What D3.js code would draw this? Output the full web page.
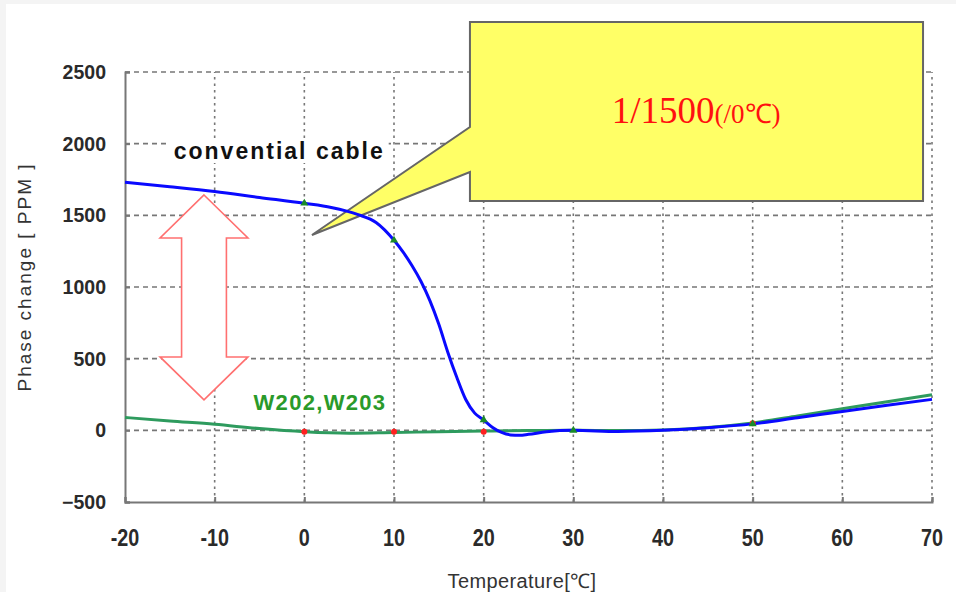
<!DOCTYPE html>
<html><head><meta charset="utf-8">
<script src="https://cdn.jsdelivr.net/npm/d3@7"></script>
<style>body{margin:0;background:#fff}svg{display:block}</style>
</head><body>
<svg id="c" width="956" height="592"></svg>
<script>
// ---- data ----
const xTicks = [-20,-10,0,10,20,30,40,50,60,70];
const yTicks = [-500,0,500,1000,1500,2000,2500];
const conventionalX = [-20,-15,-10,-5,0,3,6,8,10,11,12,13,14,15,16,17,18,19,20,21,22,23,24,25,27,30,35,40,45,50,55,60,65,70];
const conventionalY = [1730,1700,1667,1625,1584,1555,1505,1450,1326,1245,1150,1040,905,740,545,370,215,120,72,20,-15,-32,-35,-28,-10,0,-8,0,18,45,88,132,175,216];
const w202X = [-20,-15,-10,-5,0,5,10,15,20,25,30,35,40,45,50,55,60,65,70];
const w202Y = [90,65,42,12,-10,-20,-15,-10,-5,-2,0,-2,3,20,52,100,150,200,248];
const redMarkX = [0,10,20,50];
const redMarkY = [-10,-10,-10,50];
const greenMarkX = [0,10,20,30,50];
const greenMarkY = [1584,1326,72,0,45];
const labelConventional = "convential cable";
const labelW = "W202,W203";
const calloutMain = "1/1500";
const calloutUnit = "(/0℃)";
const xTitle = "Temperature[℃]";
const yTitle = "Phase change [ PPM ]";

// ---- scales ----
const svg = d3.select("#c");
const x = d3.scaleLinear().domain([-20,70]).range([125,932]);
const y = d3.scaleLinear().domain([-500,2500]).range([502,72]);

svg.append("rect").attr("width",956).attr("height",592).attr("fill","#f4f4f4");
svg.append("rect").attr("x",6).attr("y",4).attr("width",950).attr("height",588).attr("fill","#fff");

// grid
const grid = svg.append("g").attr("stroke","#777").attr("stroke-width",1.6);
grid.selectAll("line.h").data(yTicks.filter(d=>d>-500)).join("line")
  .attr("x1",x(-20)).attr("x2",x(70)).attr("y1",d=>y(d)).attr("y2",d=>y(d))
  .attr("stroke-dasharray","5,4");
grid.selectAll("line.v").data(xTicks.filter(d=>d>-20)).join("line")
  .attr("y1",y(-500)).attr("y2",y(2500)).attr("x1",d=>x(d)).attr("x2",d=>x(d))
  .attr("stroke-dasharray","2.5,4");

// axes
const axL = svg.append("g").attr("transform",`translate(${x(-20)},0)`)
  .call(d3.axisRight(y).tickValues(yTicks).tickSize(5).tickFormat(""));
const axB = svg.append("g").attr("transform",`translate(0,${y(-500)})`)
  .call(d3.axisTop(x).tickValues(xTicks).tickSize(5).tickFormat(""));
[axL,axB].forEach(a=>{a.selectAll("path,line").attr("stroke","#777").attr("stroke-width",2);});

svg.append("g").selectAll("text").data(yTicks).join("text")
  .attr("x",106).attr("y",d=>y(d)).attr("dy","0.36em").attr("text-anchor","end")
  .attr("font-family","Liberation Sans, Arial, sans-serif").attr("font-weight","bold")
  .attr("font-size",19.5).attr("fill","#2a2a2a").text(d=>d<0?"−"+Math.abs(d):d);
svg.append("g").selectAll("text").data(xTicks).join("text")
  .attr("transform",d=>`translate(${x(d)},546) scale(0.86,1)`).attr("text-anchor","middle")
  .attr("font-family","Liberation Sans, Arial, sans-serif").attr("font-weight","bold")
  .attr("font-size",23).attr("fill","#2a2a2a").text(d=>d<0?"-"+Math.abs(d):d);

svg.append("text").attr("x",522).attr("y",588).attr("text-anchor","middle")
  .attr("font-family","Liberation Sans, Arial, sans-serif").attr("letter-spacing","0.4px")
  .attr("font-size",20).attr("fill","#333").text(xTitle);
svg.append("text").attr("transform","translate(31,277) rotate(-90)").attr("text-anchor","middle")
  .attr("font-family","Liberation Sans, Arial, sans-serif").attr("letter-spacing","2px")
  .attr("font-size",19).attr("fill","#333").text(yTitle);

// callout (annotation, in data units)
const cb = {x0:18.47, x1:69.0, y0:2849, y1:1600, n0:2116, n1:1802, tx:0.85, ty:1363};
const cp = [[x(cb.x0),y(cb.y0)],[x(cb.x1),y(cb.y0)],[x(cb.x1),y(cb.y1)],[x(cb.x0),y(cb.y1)],
  [x(cb.x0),y(cb.n1)],[x(cb.tx),y(cb.ty)],[x(cb.x0),y(cb.n0)]];
svg.append("path").attr("d","M"+cp.join("L")+"Z").attr("fill","#ffff66")
  .attr("stroke","#666").attr("stroke-width",2).attr("stroke-linejoin","miter");
const ct = svg.append("text").attr("x",x(43.7)).attr("y",y(2144)).attr("text-anchor","middle")
  .attr("font-family","Liberation Serif, Times New Roman, serif").attr("fill","#ff1010");
ct.append("tspan").attr("font-size",37).text(calloutMain);
ct.append("tspan").attr("font-size",27).text(calloutUnit);

// double arrow (annotation, data units)
const ar = {cx:-11.19, hw:4.9, sw:2.5, top:1642, hb1:1342, hb2:512, bot:212};
const ap = [[x(ar.cx),y(ar.top)],[x(ar.cx+ar.hw),y(ar.hb1)],[x(ar.cx+ar.sw),y(ar.hb1)],[x(ar.cx+ar.sw),y(ar.hb2)],
  [x(ar.cx+ar.hw),y(ar.hb2)],[x(ar.cx),y(ar.bot)],[x(ar.cx-ar.hw),y(ar.hb2)],[x(ar.cx-ar.sw),y(ar.hb2)],
  [x(ar.cx-ar.sw),y(ar.hb1)],[x(ar.cx-ar.hw),y(ar.hb1)]];
svg.append("path").attr("d","M"+ap.join("L")+"Z").attr("fill","#fff").attr("stroke","#ff7070").attr("stroke-width",1.6);

// labels with white background
function boxedLabel(txt,cx,base,size,color,ls){
  const g = svg.append("g");
  const t = g.append("text").attr("x",cx).attr("y",base).attr("text-anchor","middle")
    .attr("font-family","Liberation Sans, Arial, sans-serif").attr("font-weight","bold")
    .attr("letter-spacing",ls+"px").attr("font-size",size).attr("fill",color).text(txt);
  const b = t.node().getBBox();
  g.insert("rect","text").attr("x",b.x-4).attr("y",b.y+1).attr("width",b.width+8).attr("height",b.height-2).attr("fill","#fff");
}
boxedLabel(labelConventional, x(-2.8), y(1893), 23, "#111", 2);
boxedLabel(labelW, x(1.74), y(142), 22, "#2a9a2a", 1.3);

// curves
const line = d3.line().x(d=>x(d[0])).y(d=>y(d[1])).curve(d3.curveMonotoneX);
svg.append("path").datum(w202X.map((v,i)=>[v,w202Y[i]])).attr("d",line)
  .attr("fill","none").attr("stroke","#2e9b5e").attr("stroke-width",3);
svg.append("path").datum(conventionalX.map((v,i)=>[v,conventionalY[i]])).attr("d",line)
  .attr("fill","none").attr("stroke","#0a0aff").attr("stroke-width",3);

// markers
svg.append("g").selectAll("circle").data(redMarkX.map((v,i)=>[v,redMarkY[i]])).join("circle")
  .attr("cx",d=>x(d[0])).attr("cy",d=>y(d[1])).attr("r",3).attr("fill","#ff2020");
const tri = d3.symbol().type(d3.symbolTriangle).size(28);
svg.append("g").selectAll("path").data(greenMarkX.map((v,i)=>[v,greenMarkY[i]])).join("path")
  .attr("d",tri).attr("transform",d=>`translate(${x(d[0])},${y(d[1])})`).attr("fill","#1a8a2a");
</script>
</body></html>
